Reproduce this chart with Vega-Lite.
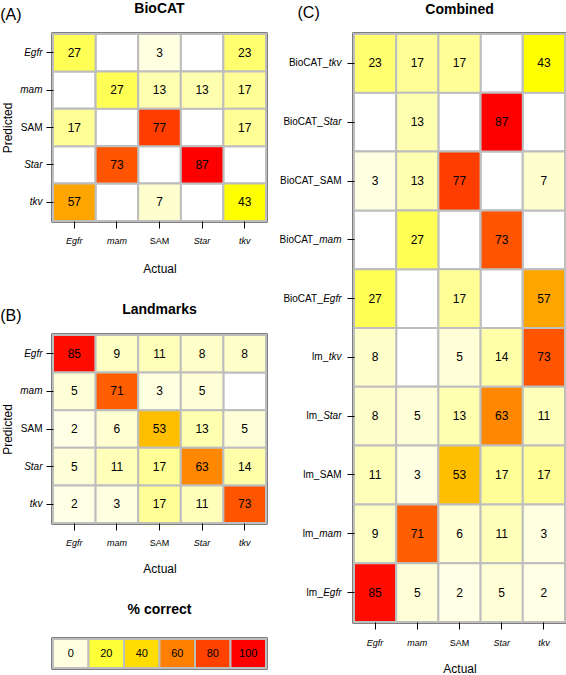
{
  "$schema": "https://vega.github.io/schema/vega-lite/v6.json",
  "padding": 0,
  "background": "white",
  "config": {
    "font": "Liberation Sans",
    "view": {"stroke": "black", "strokeWidth": 3},
    "axis": {"domain": false, "grid": false, "tickColor": "black", "tickSize": 7, "tickWidth": 1, "labelFontSize": 9, "labelColor": "black", "titleFontSize": 12, "titleFontWeight": "normal", "titleColor": "black"},
    "axisX": {"labelAngle": 0},
    "title": {"fontSize": 14, "fontWeight": "bold", "color": "black"}
  },
  "datasets": {
    "biocat": [
      {"predicted": "Egfr", "actual": "Egfr", "pct": 27}, {"predicted": "Egfr", "actual": "mam", "pct": null}, {"predicted": "Egfr", "actual": "SAM", "pct": 3}, {"predicted": "Egfr", "actual": "Star", "pct": null}, {"predicted": "Egfr", "actual": "tkv", "pct": 23},
      {"predicted": "mam", "actual": "Egfr", "pct": null}, {"predicted": "mam", "actual": "mam", "pct": 27}, {"predicted": "mam", "actual": "SAM", "pct": 13}, {"predicted": "mam", "actual": "Star", "pct": 13}, {"predicted": "mam", "actual": "tkv", "pct": 17},
      {"predicted": "SAM", "actual": "Egfr", "pct": 17}, {"predicted": "SAM", "actual": "mam", "pct": null}, {"predicted": "SAM", "actual": "SAM", "pct": 77}, {"predicted": "SAM", "actual": "Star", "pct": null}, {"predicted": "SAM", "actual": "tkv", "pct": 17},
      {"predicted": "Star", "actual": "Egfr", "pct": null}, {"predicted": "Star", "actual": "mam", "pct": 73}, {"predicted": "Star", "actual": "SAM", "pct": null}, {"predicted": "Star", "actual": "Star", "pct": 87}, {"predicted": "Star", "actual": "tkv", "pct": null},
      {"predicted": "tkv", "actual": "Egfr", "pct": 57}, {"predicted": "tkv", "actual": "mam", "pct": null}, {"predicted": "tkv", "actual": "SAM", "pct": 7}, {"predicted": "tkv", "actual": "Star", "pct": null}, {"predicted": "tkv", "actual": "tkv", "pct": 43}
    ],
    "landmarks": [
      {"predicted": "Egfr", "actual": "Egfr", "pct": 85}, {"predicted": "Egfr", "actual": "mam", "pct": 9}, {"predicted": "Egfr", "actual": "SAM", "pct": 11}, {"predicted": "Egfr", "actual": "Star", "pct": 8}, {"predicted": "Egfr", "actual": "tkv", "pct": 8},
      {"predicted": "mam", "actual": "Egfr", "pct": 5}, {"predicted": "mam", "actual": "mam", "pct": 71}, {"predicted": "mam", "actual": "SAM", "pct": 3}, {"predicted": "mam", "actual": "Star", "pct": 5}, {"predicted": "mam", "actual": "tkv", "pct": null},
      {"predicted": "SAM", "actual": "Egfr", "pct": 2}, {"predicted": "SAM", "actual": "mam", "pct": 6}, {"predicted": "SAM", "actual": "SAM", "pct": 53}, {"predicted": "SAM", "actual": "Star", "pct": 13}, {"predicted": "SAM", "actual": "tkv", "pct": 5},
      {"predicted": "Star", "actual": "Egfr", "pct": 5}, {"predicted": "Star", "actual": "mam", "pct": 11}, {"predicted": "Star", "actual": "SAM", "pct": 17}, {"predicted": "Star", "actual": "Star", "pct": 63}, {"predicted": "Star", "actual": "tkv", "pct": 14},
      {"predicted": "tkv", "actual": "Egfr", "pct": 2}, {"predicted": "tkv", "actual": "mam", "pct": 3}, {"predicted": "tkv", "actual": "SAM", "pct": 17}, {"predicted": "tkv", "actual": "Star", "pct": 11}, {"predicted": "tkv", "actual": "tkv", "pct": 73}
    ],
    "combined": [
      {"predicted": "BioCAT_tkv", "actual": "Egfr", "pct": 23}, {"predicted": "BioCAT_tkv", "actual": "mam", "pct": 17}, {"predicted": "BioCAT_tkv", "actual": "SAM", "pct": 17}, {"predicted": "BioCAT_tkv", "actual": "Star", "pct": null}, {"predicted": "BioCAT_tkv", "actual": "tkv", "pct": 43},
      {"predicted": "BioCAT_Star", "actual": "Egfr", "pct": null}, {"predicted": "BioCAT_Star", "actual": "mam", "pct": 13}, {"predicted": "BioCAT_Star", "actual": "SAM", "pct": null}, {"predicted": "BioCAT_Star", "actual": "Star", "pct": 87}, {"predicted": "BioCAT_Star", "actual": "tkv", "pct": null},
      {"predicted": "BioCAT_SAM", "actual": "Egfr", "pct": 3}, {"predicted": "BioCAT_SAM", "actual": "mam", "pct": 13}, {"predicted": "BioCAT_SAM", "actual": "SAM", "pct": 77}, {"predicted": "BioCAT_SAM", "actual": "Star", "pct": null}, {"predicted": "BioCAT_SAM", "actual": "tkv", "pct": 7},
      {"predicted": "BioCAT_mam", "actual": "Egfr", "pct": null}, {"predicted": "BioCAT_mam", "actual": "mam", "pct": 27}, {"predicted": "BioCAT_mam", "actual": "SAM", "pct": null}, {"predicted": "BioCAT_mam", "actual": "Star", "pct": 73}, {"predicted": "BioCAT_mam", "actual": "tkv", "pct": null},
      {"predicted": "BioCAT_Egfr", "actual": "Egfr", "pct": 27}, {"predicted": "BioCAT_Egfr", "actual": "mam", "pct": null}, {"predicted": "BioCAT_Egfr", "actual": "SAM", "pct": 17}, {"predicted": "BioCAT_Egfr", "actual": "Star", "pct": null}, {"predicted": "BioCAT_Egfr", "actual": "tkv", "pct": 57},
      {"predicted": "lm_tkv", "actual": "Egfr", "pct": 8}, {"predicted": "lm_tkv", "actual": "mam", "pct": null}, {"predicted": "lm_tkv", "actual": "SAM", "pct": 5}, {"predicted": "lm_tkv", "actual": "Star", "pct": 14}, {"predicted": "lm_tkv", "actual": "tkv", "pct": 73},
      {"predicted": "lm_Star", "actual": "Egfr", "pct": 8}, {"predicted": "lm_Star", "actual": "mam", "pct": 5}, {"predicted": "lm_Star", "actual": "SAM", "pct": 13}, {"predicted": "lm_Star", "actual": "Star", "pct": 63}, {"predicted": "lm_Star", "actual": "tkv", "pct": 11},
      {"predicted": "lm_SAM", "actual": "Egfr", "pct": 11}, {"predicted": "lm_SAM", "actual": "mam", "pct": 3}, {"predicted": "lm_SAM", "actual": "SAM", "pct": 53}, {"predicted": "lm_SAM", "actual": "Star", "pct": 17}, {"predicted": "lm_SAM", "actual": "tkv", "pct": 17},
      {"predicted": "lm_mam", "actual": "Egfr", "pct": 9}, {"predicted": "lm_mam", "actual": "mam", "pct": 71}, {"predicted": "lm_mam", "actual": "SAM", "pct": 6}, {"predicted": "lm_mam", "actual": "Star", "pct": 11}, {"predicted": "lm_mam", "actual": "tkv", "pct": 3},
      {"predicted": "lm_Egfr", "actual": "Egfr", "pct": 85}, {"predicted": "lm_Egfr", "actual": "mam", "pct": 5}, {"predicted": "lm_Egfr", "actual": "SAM", "pct": 2}, {"predicted": "lm_Egfr", "actual": "Star", "pct": 5}, {"predicted": "lm_Egfr", "actual": "tkv", "pct": 2}
    ],
    "legend": [{"level": 0}, {"level": 20}, {"level": 40}, {"level": 60}, {"level": 80}, {"level": 100}]
  },
  "spacing": 8,
  "hconcat": [
    {
      "spacing": 25,
      "vconcat": [
        {
          "title": {"text": "(A)", "anchor": "start", "frame": "bounds", "fontSize": 16, "fontWeight": "normal", "offset": -22},
          "vconcat": [
            {
              "title": {"text": "BioCAT", "anchor": "middle", "frame": "group", "offset": 17},
              "width": 213, "height": 187,
              "data": {"name": "biocat"},
              "encoding": {
                "x": {"field": "actual", "type": "nominal", "sort": ["Egfr", "mam", "SAM", "Star", "tkv"], "scale": {"paddingInner": 0, "paddingOuter": 0},
                      "axis": {"title": "Actual", "labelFontSize": 9, "labelPadding": 8, "titlePadding": 18, "labelFontStyle": {"condition": {"test": "datum.value === 'SAM'", "value": "normal"}, "value": "italic"}}},
                "y": {"field": "predicted", "type": "nominal", "sort": ["Egfr", "mam", "SAM", "Star", "tkv"], "scale": {"paddingInner": 0, "paddingOuter": 0},
                      "axis": {"title": "Predicted", "labelFontSize": 10, "labelPadding": 4, "titlePadding": 5, "labelFontStyle": {"condition": {"test": "datum.value === 'SAM'", "value": "normal"}, "value": "italic"}}}
              },
              "layer": [
                {"mark": {"type": "rect", "fill": "white", "stroke": "#BEBEBE", "strokeWidth": 2}},
                {"transform": [{"filter": "datum.pct != null"}], "mark": {"type": "rect", "stroke": "#BEBEBE", "strokeWidth": 2},
                 "encoding": {"color": {"field": "pct", "type": "quantitative", "legend": null,
                   "scale": {"domain": [0, 13, 27, 43, 57, 63, 73, 87], "range": ["#FFFFF0", "#FFFFB0", "#FFFF55", "#FFFF00", "#FFA500", "#FF8800", "#FF5500", "#FF0000"], "interpolate": "rgb", "clamp": true}}}},
                {"transform": [{"filter": "datum.pct != null"}], "mark": {"type": "text", "fontSize": 12, "color": "black"},
                 "encoding": {"text": {"field": "pct", "type": "quantitative"}}}
              ]
            }
          ]
        },
        {
          "title": {"text": "(B)", "anchor": "start", "frame": "bounds", "fontSize": 16, "fontWeight": "normal", "offset": -22},
          "vconcat": [
            {
              "title": {"text": "Landmarks", "anchor": "middle", "frame": "group", "offset": 17},
              "width": 213, "height": 188,
              "data": {"name": "landmarks"},
              "encoding": {
                "x": {"field": "actual", "type": "nominal", "sort": ["Egfr", "mam", "SAM", "Star", "tkv"], "scale": {"paddingInner": 0, "paddingOuter": 0},
                      "axis": {"title": "Actual", "labelFontSize": 9, "labelPadding": 8, "titlePadding": 16, "labelFontStyle": {"condition": {"test": "datum.value === 'SAM'", "value": "normal"}, "value": "italic"}}},
                "y": {"field": "predicted", "type": "nominal", "sort": ["Egfr", "mam", "SAM", "Star", "tkv"], "scale": {"paddingInner": 0, "paddingOuter": 0},
                      "axis": {"title": "Predicted", "labelFontSize": 10, "labelPadding": 4, "titlePadding": 5, "labelFontStyle": {"condition": {"test": "datum.value === 'SAM'", "value": "normal"}, "value": "italic"}}}
              },
              "layer": [
                {"mark": {"type": "rect", "fill": "white", "stroke": "#BEBEBE", "strokeWidth": 2}},
                {"transform": [{"filter": "datum.pct != null"}], "mark": {"type": "rect", "stroke": "#BEBEBE", "strokeWidth": 2},
                 "encoding": {"color": {"field": "pct", "type": "quantitative", "legend": null,
                   "scale": {"domain": [0, 13, 27, 43, 57, 63, 73, 87], "range": ["#FFFFF0", "#FFFFB0", "#FFFF55", "#FFFF00", "#FFA500", "#FF8800", "#FF5500", "#FF0000"], "interpolate": "rgb", "clamp": true}}}},
                {"transform": [{"filter": "datum.pct != null"}], "mark": {"type": "text", "fontSize": 12, "color": "black"},
                 "encoding": {"text": {"field": "pct", "type": "quantitative"}}}
              ]
            }
          ]
        },
        {
          "title": {"text": "% correct", "anchor": "middle", "frame": "group", "offset": 21},
          "width": 213, "height": 29,
          "data": {"name": "legend"},
          "encoding": {"x": {"field": "level", "type": "ordinal", "axis": null, "scale": {"paddingInner": 0, "paddingOuter": 0}}},
          "layer": [
            {"mark": {"type": "rect", "stroke": "#BEBEBE", "strokeWidth": 2},
             "encoding": {"fill": {"field": "level", "type": "ordinal", "legend": null, "scale": {"domain": [0, 20, 40, 60, 80, 100], "range": ["#FFFFE0", "#FFFF38", "#FFDD00", "#FF8000", "#FF4200", "#FF0000"]}}}},
            {"mark": {"type": "text", "fontSize": 11, "color": "black"}, "encoding": {"text": {"field": "level", "type": "ordinal"}}}
          ]
        }
      ]
    },
    {
      "title": {"text": "(C)", "anchor": "start", "frame": "bounds", "fontSize": 16, "fontWeight": "normal", "offset": -19, "dx": 20},
      "vconcat": [
        {
          "title": {"text": "Combined", "anchor": "middle", "frame": "group", "offset": 16},
          "width": 211, "height": 588,
          "data": {"name": "combined"},
          "encoding": {
            "x": {"field": "actual", "type": "nominal", "sort": ["Egfr", "mam", "SAM", "Star", "tkv"], "scale": {"paddingInner": 0, "paddingOuter": 0},
                  "axis": {"title": "Actual", "labelFontSize": 9, "labelPadding": 9, "titlePadding": 16, "labelFontStyle": {"condition": {"test": "datum.value === 'SAM'", "value": "normal"}, "value": "italic"}}}
          },
          "layer": [
            {"mark": {"type": "rect", "fill": "white", "stroke": "#BEBEBE", "strokeWidth": 2},
             "encoding": {"y": {"field": "predicted", "type": "nominal", "sort": ["BioCAT_tkv", "BioCAT_Star", "BioCAT_SAM", "BioCAT_mam", "BioCAT_Egfr", "lm_tkv", "lm_Star", "lm_SAM", "lm_mam", "lm_Egfr"], "scale": {"paddingInner": 0, "paddingOuter": 0},
               "axis": {"title": null, "orient": "left", "offset": 0, "labelFontSize": 10, "labelPadding": 6, "labelExpr": "split(datum.value, '_')[1]", "labelFontStyle": {"condition": {"test": "indexof(datum.value, 'SAM') >= 0", "value": "normal"}, "value": "italic"}}}}},
            {"transform": [{"filter": "datum.pct != null"}], "mark": {"type": "rect", "stroke": "#BEBEBE", "strokeWidth": 2},
             "encoding": {
               "y": {"field": "predicted", "type": "nominal", "sort": ["BioCAT_tkv", "BioCAT_Star", "BioCAT_SAM", "BioCAT_mam", "BioCAT_Egfr", "lm_tkv", "lm_Star", "lm_SAM", "lm_mam", "lm_Egfr"], "axis": null},
               "color": {"field": "pct", "type": "quantitative", "legend": null,
                 "scale": {"domain": [0, 13, 27, 43, 57, 63, 73, 87], "range": ["#FFFFF0", "#FFFFB0", "#FFFF55", "#FFFF00", "#FFA500", "#FF8800", "#FF5500", "#FF0000"], "interpolate": "rgb", "clamp": true}}}},
            {"transform": [{"filter": "datum.pct != null"}], "mark": {"type": "text", "fontSize": 12, "color": "black"},
             "encoding": {
               "y": {"field": "predicted", "type": "nominal", "sort": ["BioCAT_tkv", "BioCAT_Star", "BioCAT_SAM", "BioCAT_mam", "BioCAT_Egfr", "lm_tkv", "lm_Star", "lm_SAM", "lm_mam", "lm_Egfr"], "axis": null},
               "text": {"field": "pct", "type": "quantitative"}}},
            {"mark": {"type": "rect", "opacity": 0},
             "encoding": {"y": {"field": "predicted", "type": "nominal", "sort": ["BioCAT_tkv", "BioCAT_Star", "BioCAT_SAM", "BioCAT_mam", "BioCAT_Egfr", "lm_tkv", "lm_Star", "lm_SAM", "lm_mam", "lm_Egfr"],
               "axis": {"title": null, "orient": "left", "offset": 0, "labelFontSize": 10, "tickOpacity": 0, "labelExpr": "split(datum.value, '_')[0] + '_'",
                 "labelPadding": {"expr": "indexof(datum.value, 'tkv') >= 0 ? 19.3 : indexof(datum.value, 'Star') >= 0 ? 24.8 : indexof(datum.value, 'SAM') >= 0 ? 28.2 : indexof(datum.value, 'mam') >= 0 ? 28.7 : 24.8"}}}}}
          ],
          "resolve": {"axis": {"y": "independent"}}
        }
      ]
    }
  ]
}
